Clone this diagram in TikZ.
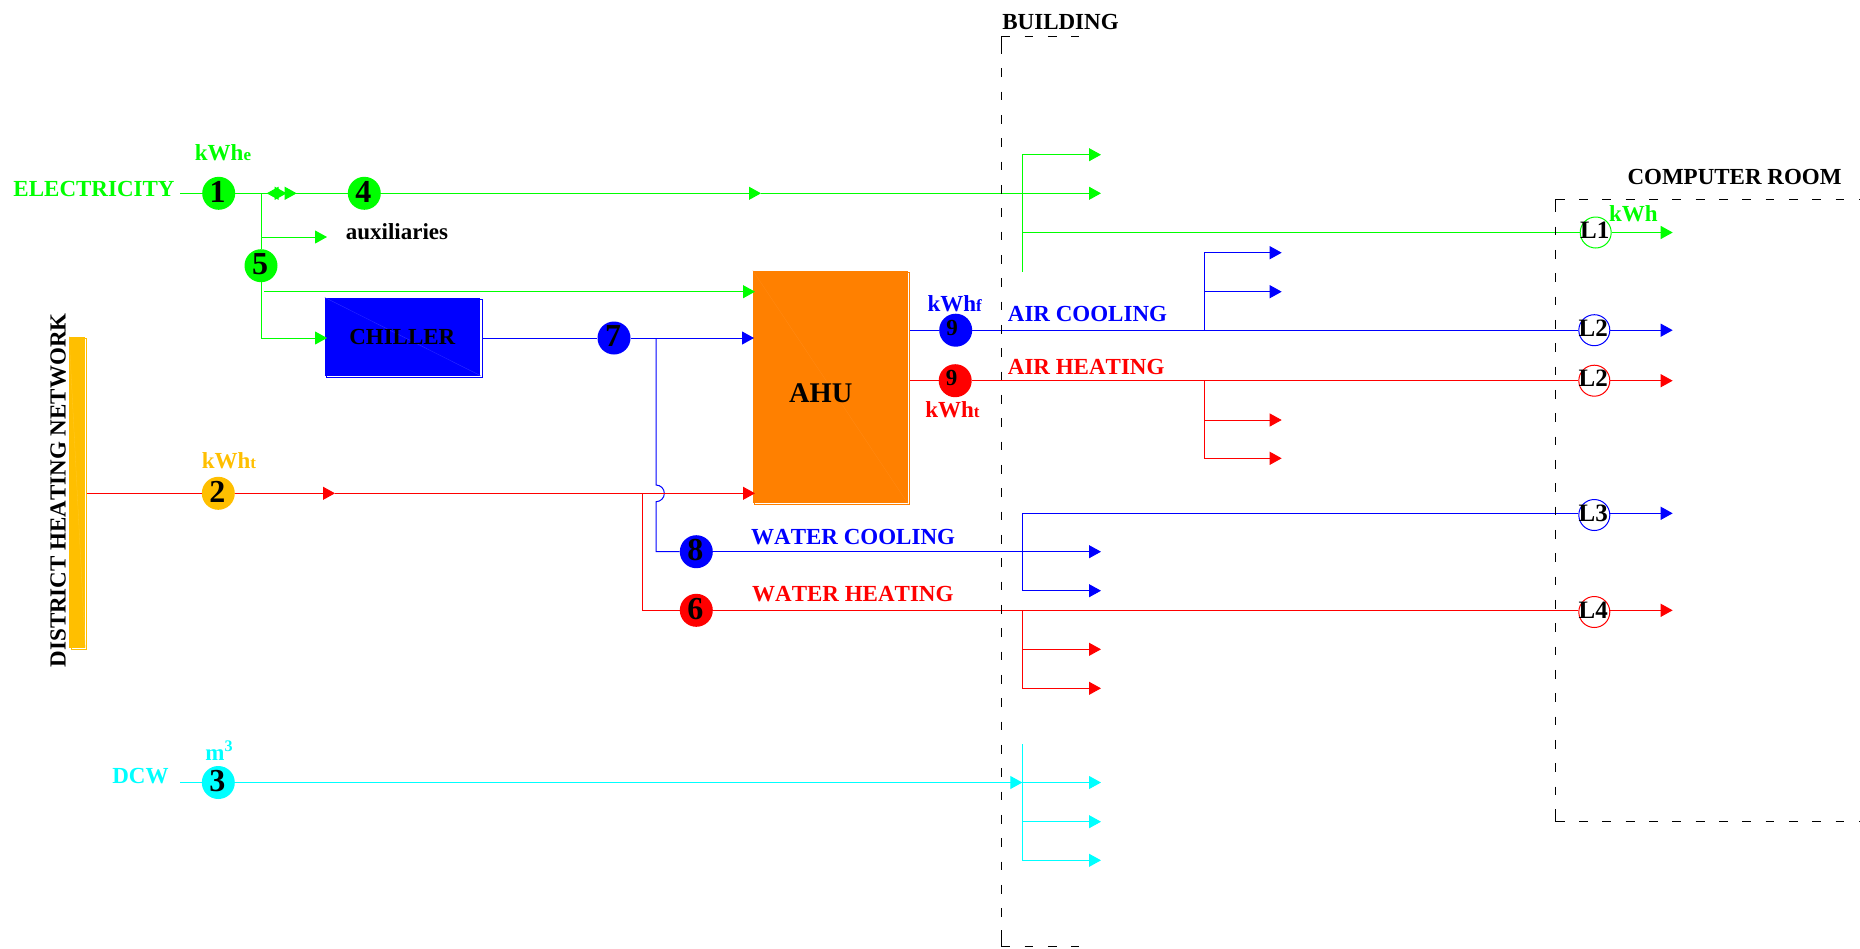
\documentclass[tikz,border=0pt]{standalone}
\usepackage{fontspec}
\setmainfont{Liberation Serif}[Kerning=Off]
\usetikzlibrary{arrows.meta, shadows}
\definecolor{elec}{RGB}{0, 255, 0}
\definecolor{cool}{RGB}{0, 0, 255}
\definecolor{heat}{RGB}{255, 0, 0}
\definecolor{dcw}{RGB}{0, 255, 255}
\definecolor{ahufill}{RGB}{255, 128, 0}
\definecolor{dhn}{RGB}{255, 191, 0}
\newcommand{\subunit}[1]{{\fontsize{17}{17}\selectfont #1}}

\begin{document}
\begin{tikzpicture}[
    x=1pt, y=-1pt,
    every node/.style={font=\bfseries\fontsize{23}{25}\selectfont, inner sep=0pt},
    meter/.style={circle, minimum size=33pt, inner sep=0pt},
    loadmeter/.style={circle, draw=#1, line width=1pt, fill=white, minimum size=31pt},
    numlbl/.style={font=\bfseries\fontsize{32}{34}\selectfont, xshift=-1pt, yshift=1.5pt},
    ninelbl/.style={font=\bfseries\fontsize{23}{25}\selectfont, xshift=-3.5pt, yshift=2.5pt},
    loadlbl/.style={font=\bfseries\fontsize{25}{27}\selectfont, xshift=-1pt, yshift=2pt},
    unitbox/.style={rectangle, inner sep=0pt,
                    general shadow={shadow xshift=1.7pt, shadow yshift=-1.7pt,
                                    draw=#1, line width=1pt, fill=white}},
    pipe/.style={draw=#1, line width=1pt},
    flow/.style={draw=#1, line width=1pt, -{Triangle[length=12pt,width=13pt]}},
    hair/.style={draw=#1, line width=0.3pt},
    wall/.style={draw=black, line width=1pt},
    walldash/.style={draw=black, line width=1pt, dash pattern=on 8.8pt off 14.53pt}
]
\useasboundingbox (0,0) rectangle (1860,948);

% Units
\node[unitbox=dhn, fill=dhn, minimum width=15.7pt, minimum height=310.8pt] (network) at (77.2,492.1) {};
\node[unitbox=cool, fill=cool, minimum width=155.5pt, minimum height=77.8pt] (chiller) at (402.7,336.6) {};
\node[unitbox=ahufill, fill=ahufill, minimum width=154.6pt, minimum height=232.4pt] (ahu) at (830.3,386.9) {};
\draw[hair=dhn!85!white] (network.north west) -- (network.south east);
\draw[hair=cool!80!white] (chiller.north west) -- (chiller.south east);
\draw[hair=ahufill!92!white] (ahu.north west) -- (ahu.south east);
\node (chillertxt) at (402.3,337) {CHILLER};
\node[font=\bfseries\fontsize{28.5}{30}\selectfont] (ahutxt) at (820.7,393.7) {AHU};

% Meters
\node[meter, fill=elec, label={[numlbl]center:1}] (m1) at (218.7,193.3) {};
\node[meter, fill=dhn, label={[numlbl]center:2}] (m2) at (218.3,493.3) {};
\node[meter, fill=dcw, label={[numlbl]center:3}] (m3) at (218.3,782.5) {};
\node[meter, fill=elec, label={[numlbl]center:4}] (m4) at (364.3,193.3) {};
\node[meter, fill=elec, label={[numlbl]center:5}] (m5) at (261,265.7) {};
\node[meter, fill=heat, label={[numlbl]center:6}] (m6) at (696.3,610.3) {};
\node[meter, fill=cool, label={[numlbl]center:7}] (m7) at (614,338) {};
\node[meter, fill=cool, label={[numlbl]center:8}] (m8) at (696.3,551.7) {};
\node[meter, fill=cool, label={[ninelbl]center:9}] (m9f) at (955.7,330.2) {};
\node[meter, fill=heat, label={[ninelbl]center:9}] (m9t) at (955.2,380.7) {};

% Loads in the computer room
\node[loadmeter=elec, label={[loadlbl]center:L1}] (l1) at (1595.7,232.5) {};
\node[loadmeter=cool, label={[loadlbl]center:L2}] (l2f) at (1594.3,330.2) {};
\node[loadmeter=heat, label={[loadlbl]center:L2}] (l2t) at (1594.3,380.7) {};
\node[loadmeter=cool, label={[loadlbl]center:L3}] (l3) at (1594.3,515) {};
\node[loadmeter=heat, label={[loadlbl]center:L4}] (l4) at (1594.3,612) {};

% Electricity
\coordinate (elstart) at (180,193.3);
\coordinate (eltee) at (261,193.3);
\coordinate (elmid) at (761,193.3);
\coordinate (elout) at (1101,193.3);
\coordinate (elaux) at (261,237);
\coordinate (elauxtip) at (327,237);
\coordinate (elchil) at (261,338);
\coordinate (elchiltip) at (327,338);
\coordinate (elahu) at (264,291.7);
\coordinate (elahutip) at (755,291.7);
\coordinate (elbra) at (1022.3,154.7);
\coordinate (elbrb) at (1022.3,271.7);
\coordinate (elbratip) at (1101,154.7);
\coordinate (elroom) at (1022.3,232.5);
\coordinate (elroomtip) at (1672.7,232.5);
\draw[pipe=elec] (elstart) -- (m1);
\draw[pipe=elec] (m1) -- (eltee);
\draw[pipe=elec] (eltee) -- (m4);
\draw[pipe=elec] (eltee) -- (m5);
\draw[pipe=elec] (m5) -- (elchil);
\draw[flow=elec] (elaux) -- (elauxtip);
\draw[flow=elec] (elchil) -- (elchiltip);
\draw[flow=elec] (elahu) -- (elahutip);
\draw[flow=elec] (m4) -- (elmid);
\draw[flow=elec] (elmid) -- (elout);
\draw[pipe=elec] (elbra) -- (elbrb);
\draw[flow=elec] (elbra) -- (elbratip);
\draw[pipe=elec] (elroom) -- (l1);
\draw[flow=elec] (l1) -- (elroomtip);
% back to back valve tips
\coordinate (valvea) at (276.7,193.3);
\coordinate (valveb) at (266.7,193.3);
\coordinate (valvec) at (286.7,193.3);
\coordinate (valved) at (284.7,193.3);
\coordinate (valvee) at (296.7,193.3);
\draw[flow=elec] (valvea) -- (valveb);
\draw[flow=elec] (valvea) -- (valvec);
\draw[flow=elec] (valved) -- (valvee);

% Chilled water
\coordinate (chout) at (482.5,338);
\coordinate (chtee) at (656,338);
\coordinate (chtip) at (754,338);
\coordinate (jumpa) at (656,485);
\coordinate (wcmid) at (1101,551.7);
\coordinate (wcup) at (1022.3,513.3);
\coordinate (wclow) at (1022.3,590.7);
\coordinate (wclowtip) at (1101,590.7);
\coordinate (wcroomtip) at (1672.7,513.3);
\draw[pipe=cool] (chout) -- (m7);
\draw[flow=cool] (m7) -- (chtip);
\draw[pipe=cool] (chtee) -- (jumpa) arc[start angle=90, end angle=-90, radius=8.35pt] |- (m8);
\draw[flow=cool] (m8) -- (wcmid);
\draw[pipe=cool] (wcup) -- (wclow);
\draw[flow=cool] (wclow) -- (wclowtip);
\draw[pipe=cool] (wcup) -- (wcup -| l3.west);
\draw[flow=cool] (wcup -| l3.east) -- (wcroomtip);

% Heat
\coordinate (netout) at (87,493.3);
\coordinate (htmid) at (335,493.3);
\coordinate (httee) at (642.7,493.3);
\coordinate (htahu) at (755,493.3);
\coordinate (hwtee) at (1022.3,610.3);
\coordinate (hwbra) at (1022.3,649.3);
\coordinate (hwbrb) at (1022.3,688.3);
\coordinate (hwbratip) at (1101,649.3);
\coordinate (hwbrbtip) at (1101,688.3);
\coordinate (hwroomtip) at (1672.7,610.3);
\draw[pipe=heat] (netout) -- (m2);
\draw[flow=heat] (m2) -- (htmid);
\draw[flow=heat] (htmid) -- (htahu);
\draw[pipe=heat] (httee) |- (m6);
\draw[pipe=heat] (m6) -- (hwtee);
\draw[pipe=heat] (hwtee) -- (hwtee -| l4.west);
\draw[flow=heat] (hwtee -| l4.east) -- (hwroomtip);
\draw[pipe=heat] (hwtee) -- (hwbrb);
\draw[flow=heat] (hwbra) -- (hwbratip);
\draw[flow=heat] (hwbrb) -- (hwbrbtip);

% Air side
\coordinate (ahuoutf) at (910,330.2);
\coordinate (ahuoutt) at (910,380.7);
\coordinate (acbra) at (1204,252.7);
\coordinate (acbrb) at (1204,291.7);
\coordinate (actee) at (1204,330.2);
\coordinate (acbratip) at (1281.7,252.7);
\coordinate (acbrbtip) at (1281.7,291.7);
\coordinate (acroomtip) at (1672.7,330.2);
\coordinate (ahtee) at (1204,380.7);
\coordinate (ahbra) at (1204,420);
\coordinate (ahbrb) at (1204,458.3);
\coordinate (ahbratip) at (1281.7,420);
\coordinate (ahbrbtip) at (1281.7,458.3);
\coordinate (ahroomtip) at (1672.7,380.7);
\draw[pipe=cool] (ahuoutf) -- (m9f);
\draw[pipe=cool] (m9f) -- (l2f);
\draw[flow=cool] (l2f) -- (acroomtip);
\draw[pipe=cool] (actee) -- (acbra);
\draw[flow=cool] (acbra) -- (acbratip);
\draw[flow=cool] (acbrb) -- (acbrbtip);
\draw[pipe=heat] (ahuoutt) -- (m9t);
\draw[pipe=heat] (m9t) -- (l2t);
\draw[flow=heat] (l2t) -- (ahroomtip);
\draw[pipe=heat] (ahtee) -- (ahbrb);
\draw[flow=heat] (ahbra) -- (ahbratip);
\draw[flow=heat] (ahbrb) -- (ahbrbtip);

% Domestic cold water
\coordinate (dcstart) at (180,782.5);
\coordinate (dctee) at (1022.3,782.5);
\coordinate (dctop) at (1022.3,744);
\coordinate (dcbrb) at (1022.3,821.7);
\coordinate (dcbrc) at (1022.3,860.3);
\coordinate (dctipa) at (1101,782.5);
\coordinate (dctipb) at (1101,821.7);
\coordinate (dctipc) at (1101,860.3);
\draw[pipe=dcw] (dcstart) -- (m3);
\draw[flow=dcw] (m3) -- (dctee);
\draw[pipe=dcw] (dctop) -- (dcbrc);
\draw[flow=dcw] (dctee) -- (dctipa);
\draw[flow=dcw] (dcbrb) -- (dctipb);
\draw[flow=dcw] (dcbrc) -- (dctipc);

% Building wall
\coordinate (bldtl) at (1001.3,36.7);
\coordinate (bldtr) at (1079,36.7);
\coordinate (bldbl) at (1001.3,946.7);
\coordinate (bldbr) at (1079,946.7);
\draw[walldash] (bldtl) -- (bldtr);
\draw[walldash] (bldbl) -- (bldbr);
\draw[walldash, dash phase=15pt] (bldtl) -- (bldbl);
\draw[wall] (bldtl) -- ++(0,16);
\draw[wall] (bldbl) -- ++(0,-16.7);

% Computer room wall
\coordinate (romtl) at (1555.7,199.3);
\coordinate (romtr) at (1860,199.3);
\coordinate (rombl) at (1555.7,821.7);
\coordinate (rombr) at (1860,821.7);
\draw[walldash] (romtl) -- (romtr);
\draw[walldash] (rombl) -- (rombr);
\draw[walldash, dash phase=19.3pt] (romtl) -- (rombl);
\draw[wall] (romtl) -- ++(0,12.4);
\draw[wall] (rombl) -- ++(0,-12.7);

% Texts
\node[rotate=90] (networktxt) at (58.3,490.3) {DISTRICT HEATING NETWORK};
\node[text=elec] (electxt) at (94,189.3) {ELECTRICITY};
\node[text=dcw] (dcwtxt) at (140.5,776) {DCW};
\node[text=dcw] (m3txt) at (219.3,750.7) {m\textsuperscript{3}};
\node[text=elec] (kwhe) at (223,152.7) {kWh\subunit{e}};
\node[text=dhn] (kwhnet) at (229,461) {kWh\subunit{t}};
\node[text=cool] (kwhf) at (954.7,304) {kWh\subunit{f}};
\node[text=heat] (kwht) at (952.5,410) {kWh\subunit{t}};
\node[text=elec] (kwhroom) at (1633.3,213.3) {kWh};
\node (auxtxt) at (397,232) {auxiliaries};
\node[text=cool, anchor=west] (actxt) at (1007.7,313.7) {AIR COOLING};
\node[text=heat, anchor=west] (ahtxt) at (1007.7,367) {AIR HEATING};
\node[text=cool, anchor=west] (wctxt) at (751,537) {WATER COOLING};
\node[text=heat, anchor=west] (hwtxt) at (752,593.7) {WATER HEATING};
\node (bldtxt) at (1060.5,22) {BUILDING};
\node (romtxt) at (1734.5,177) {COMPUTER ROOM};

\end{tikzpicture}
\end{document}
